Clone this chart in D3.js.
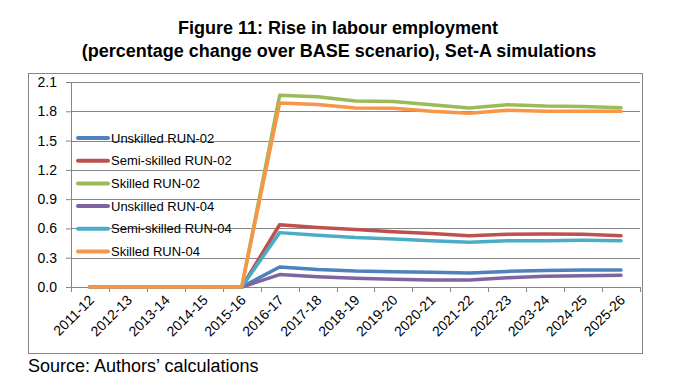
<!DOCTYPE html>
<html>
<head>
<meta charset="utf-8">
<script src="https://cdn.jsdelivr.net/npm/d3@7"></script>
<style>
  body { margin: 0; background: #fff; }
  text { font-family: "Liberation Sans", Arial, sans-serif; }
</style>
</head>
<body>
<div class="div1"></div>
<script>
const years = ["2011-12","2012-13","2013-14","2014-15","2015-16","2016-17","2017-18","2018-19",
  "2019-20","2020-21","2021-22","2022-23","2023-24","2024-25","2025-26"];
const yTicks = [0, 0.3, 0.6, 0.9, 1.2, 1.5, 1.8, 2.1];

const unskilled02   = [0,0,0,0,0,0.205,0.18,0.164,0.157,0.15,0.143,0.16,0.17,0.174,0.174];
const semiskilled02 = [0,0,0,0,0,0.638,0.61,0.588,0.567,0.547,0.526,0.54,0.543,0.54,0.526];
const skilled02     = [0,0,0,0,0,1.963,1.95,1.905,1.90,1.867,1.833,1.867,1.853,1.85,1.837];
const unskilled04   = [0,0,0,0,0,0.127,0.105,0.089,0.079,0.072,0.072,0.095,0.109,0.116,0.12];
const semiskilled04 = [0,0,0,0,0,0.557,0.53,0.506,0.492,0.475,0.458,0.475,0.475,0.478,0.475];
const skilled04     = [0,0,0,0,0,1.884,1.87,1.833,1.83,1.80,1.78,1.81,1.80,1.80,1.80];

const seriesNames = ["Unskilled RUN-02","Semi-skilled RUN-02","Skilled RUN-02",
  "Unskilled RUN-04","Semi-skilled RUN-04","Skilled RUN-04"];
const seriesValues = [unskilled02, semiskilled02, skilled02, unskilled04, semiskilled04, skilled04];
const colors = ["#4F81BD","#C0504D","#9BBB59","#8064A2","#4BACC6","#F79646"];

const W = 676, H = 387;
const margin = {top: 82, right: 36, bottom: 100, left: 71};
const width = W - margin.left - margin.right;
const height = H - margin.top - margin.bottom;

const svg = d3.select(".div1").append("svg")
  .attr("width", W).attr("height", H);

// titel
svg.append("text").attr("x", 338).attr("y", 34).attr("text-anchor","middle")
  .attr("font-size","18px").attr("font-weight","bold").attr("fill","#000")
  .text("Figure 11: Rise in labour employment");
svg.append("text").attr("x", 339).attr("y", 57).attr("text-anchor","middle")
  .attr("font-size","18px").attr("font-weight","bold").attr("fill","#000")
  .text("(percentage change over BASE scenario), Set-A simulations");

// kader
svg.append("rect").attr("x", 28.5).attr("y", 73.5).attr("width", 614).attr("height", 280)
  .attr("fill","none").attr("stroke","#868686").attr("stroke-width",1);

svg.append("text").attr("x", 28).attr("y", 372)
  .attr("font-size","18px").attr("fill","#000")
  .text("Source: Authors\u2019 calculations");

const g = svg.append("g").attr("transform","translate(" + margin.left + "," + margin.top + ")");

const x = d3.scaleBand().domain(years).range([0, width]);
const y = d3.scaleLinear().domain([0, 2.1]).range([height, 0]);

// rasterlijnen
g.selectAll(null).data(yTicks.slice(1)).enter().append("line")
  .attr("x1", 0).attr("x2", width)
  .attr("y1", d => Math.round(y(d)) + 0.5).attr("y2", d => Math.round(y(d)) + 0.5)
  .attr("stroke","#868686").attr("stroke-width",1);

const leftAxis = d3.axisLeft(y).tickValues(yTicks).tickFormat(d3.format(".1f")).tickSize(5).tickSizeOuter(0);
const gy = g.append("g").call(leftAxis);
gy.select(".domain").attr("stroke","#868686");
gy.selectAll(".tick line").attr("stroke","#868686");
gy.selectAll(".tick text").attr("font-size","14px").attr("fill","#000").attr("x", -14)
  .style("font-family","'Liberation Sans', Arial, sans-serif");

// x-as met streepjes tussen de categorieën
const gx = g.append("g").attr("transform","translate(0," + height + ")");
gx.append("line").attr("x1", 0).attr("x2", width).attr("y1", 0.5).attr("y2", 0.5).attr("stroke","#868686");
gx.selectAll(null).data(d3.range(years.length + 1)).enter().append("line")
  .attr("x1", i => Math.round(i * x.step()) + 0.5).attr("x2", i => Math.round(i * x.step()) + 0.5)
  .attr("y1", 0).attr("y2", 5).attr("stroke","#868686");
gx.selectAll(null).data(years).enter().append("text")
  .attr("font-size","14px").attr("fill","#000").attr("text-anchor","end")
  .attr("transform", d => "translate(" + (x(d) + x.bandwidth() / 2 + 5) + ",14) rotate(-45)")
  .text(d => d);

// lijnen
const line = d3.line().x((d, i) => x(years[i]) + x.bandwidth() / 2).y(d => y(d));
g.selectAll(null).data(seriesValues).enter().append("path")
  .attr("d", d => line(d))
  .attr("fill","none")
  .attr("stroke", (d, i) => colors[i])
  .attr("stroke-width", 3.5)
  .attr("stroke-linejoin","round")
  .attr("stroke-linecap","round");

// legenda
const leg = g.append("g").attr("transform","translate(7,56)");
const rows = leg.selectAll(null).data(seriesNames).enter().append("g")
  .attr("transform", (d, i) => "translate(0," + (i * 22.7) + ")");
rows.append("line").attr("x1", 0).attr("x2", 30).attr("y1", 0).attr("y2", 0)
  .attr("stroke", (d, i) => colors[i]).attr("stroke-width", 4).attr("stroke-linecap","round");
rows.append("text").attr("x", 33).attr("y", 4.5).attr("font-size","13px").attr("fill","#000")
  .text(d => d);
</script>
</body>
</html>
